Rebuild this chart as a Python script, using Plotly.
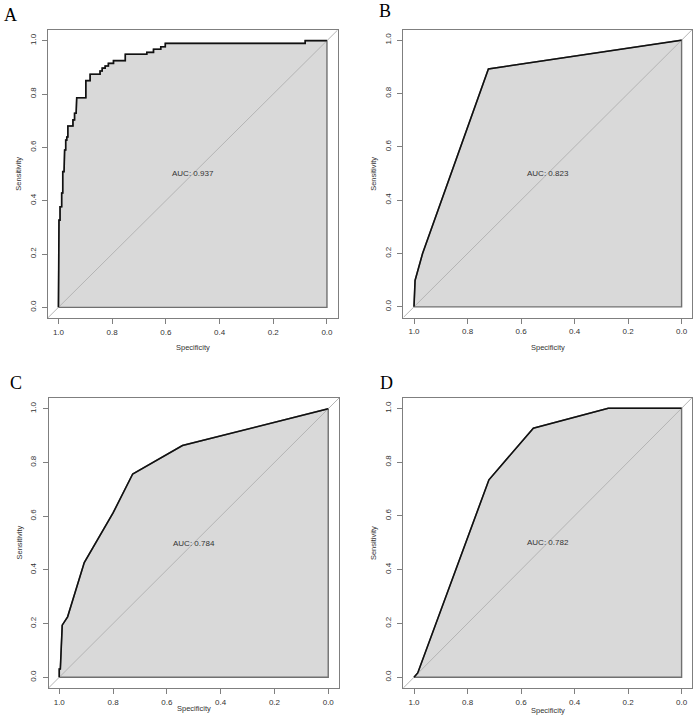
import plotly.graph_objects as go

# ---------------- data (specificity, sensitivity) ----------------
spec_A = [1.0, 1.0, 0.998, 0.998, 0.994, 0.994, 0.988, 0.988, 0.984, 0.984, 0.979, 0.979,
          0.977, 0.977, 0.973, 0.973, 0.969, 0.969, 0.965, 0.965, 0.946, 0.946, 0.940, 0.940,
          0.934, 0.934, 0.932, 0.932, 0.926, 0.926, 0.898, 0.898, 0.882, 0.882, 0.845, 0.845,
          0.837, 0.837, 0.826, 0.826, 0.814, 0.814, 0.795, 0.795, 0.751, 0.751, 0.671, 0.671,
          0.646, 0.646, 0.619, 0.619, 0.602, 0.602, 0.081, 0.081, 0.0]
sens_A = [0.0, 0.309, 0.309, 0.327, 0.327, 0.377, 0.377, 0.429, 0.429, 0.509, 0.509, 0.522,
          0.522, 0.590, 0.590, 0.627, 0.627, 0.639, 0.639, 0.680, 0.680, 0.703, 0.703, 0.728,
          0.728, 0.740, 0.740, 0.786, 0.786, 0.786, 0.786, 0.850, 0.850, 0.874, 0.874, 0.886,
          0.886, 0.897, 0.897, 0.905, 0.905, 0.915, 0.915, 0.925, 0.925, 0.949, 0.949, 0.956,
          0.956, 0.968, 0.968, 0.977, 0.977, 0.990, 0.990, 1.0, 1.0]

spec_B = [1.0, 0.996, 0.968, 0.722, 0.0]
sens_B = [0.0, 0.099, 0.200, 0.892, 1.0]

spec_C = [1.0, 1.0, 0.996, 0.989, 0.969, 0.907, 0.800, 0.727, 0.542, 0.0]
sens_C = [0.0, 0.031, 0.031, 0.194, 0.225, 0.427, 0.612, 0.757, 0.863, 1.0]

spec_D = [1.0, 0.986, 0.720, 0.554, 0.274, 0.0]
sens_D = [0.0, 0.016, 0.734, 0.926, 1.0, 1.0]

auc_labels = ["AUC: 0.937", "AUC: 0.823", "AUC: 0.784", "AUC: 0.782"]
panel_letters = ["A", "B", "C", "D"]
tick_vals = [0.0, 0.2, 0.4, 0.6, 0.8, 1.0]
tick_text = ["0.0", "0.2", "0.4", "0.6", "0.8", "1.0"]
x_title = "Specificity"
y_title = "Sensitivity"

# ---------------- layout helpers ----------------
W, H = 698, 728
X_RANGE = [1.04, -0.04]
Y_RANGE = [-0.04, 1.04]


def px(x):
    return x / W


def py(y):
    return 1 - y / H


# panel boxes in pixels: (left, right, top, bottom)
boxes = [(47.7, 337.7, 30.0, 318.0),
         (403.3, 692.3, 29.5, 317.5),
         (48.5, 339.0, 398.0, 688.0),
         (403.3, 692.3, 397.5, 688.0)]
letter_pos = [(10, 15), (385, 11), (16, 383), (386, 383)]
xtitle_y = [347, 347, 708, 710]
ytitle_dx = 30

FILL = "#d9d9d9"
BOX = "#7f7f7f"
TXT = "#333333"
FONT = "Liberation Sans, Arial, sans-serif"

fig = go.Figure()
layout = dict(width=W, height=H, margin=dict(l=0, r=0, t=0, b=0),
              paper_bgcolor="white", plot_bgcolor="white", showlegend=False,
              annotations=[])

series = [(spec_A, sens_A), (spec_B, sens_B), (spec_C, sens_C), (spec_D, sens_D)]

for i, ((sx, sy), box) in enumerate(zip(series, boxes)):
    n = "" if i == 0 else str(i + 1)
    xa, ya = "x" + n, "y" + n
    l, r, t, b = box
    # AUC polygon
    fig.add_trace(go.Scatter(x=list(sx) + [0.0, 1.0], y=list(sy) + [0.0, 0.0],
                             xaxis=xa, yaxis=ya, mode="lines", fill="toself",
                             fillcolor=FILL, line=dict(color="#707070", width=1.4),
                             hoverinfo="skip"))
    # identity line over whole box
    fig.add_trace(go.Scatter(x=X_RANGE, y=Y_RANGE, xaxis=xa, yaxis=ya, mode="lines",
                             line=dict(color="#b4b4b4", width=1), hoverinfo="skip"))
    # ROC curve
    fig.add_trace(go.Scatter(x=sx, y=sy, xaxis=xa, yaxis=ya, mode="lines",
                             line=dict(color="#111111", width=1.6)))
    axis_common = dict(showline=True, linecolor=BOX, linewidth=1, mirror=True,
                       showgrid=False, zeroline=False, ticks="outside", ticklen=5,
                       tickcolor=BOX, tickwidth=1, tickvals=tick_vals, ticktext=tick_text,
                       tickfont=dict(family=FONT, size=8, color=TXT))
    layout["xaxis" + n] = dict(axis_common, domain=[px(l), px(r)], range=X_RANGE,
                               anchor=ya, ticklabelstandoff=1)
    layout["yaxis" + n] = dict(axis_common, domain=[py(b), py(t)], range=Y_RANGE,
                               anchor=xa, tickangle=-90, ticklabelstandoff=3)
    # AUC text
    layout["annotations"].append(dict(x=0.5, y=0.5, xref=xa, yref=ya, text=auc_labels[i],
                                      showarrow=False, xanchor="center", yanchor="middle",
                                      font=dict(family=FONT, size=8, color=TXT)))
    # axis titles
    layout["annotations"].append(dict(x=px((l + r) / 2), y=py(xtitle_y[i]), xref="paper",
                                      yref="paper", text=x_title, showarrow=False,
                                      xanchor="center", yanchor="middle",
                                      font=dict(family=FONT, size=7.5, color=TXT)))
    layout["annotations"].append(dict(x=px(l - ytitle_dx), y=py((t + b) / 2), xref="paper",
                                      yref="paper", text=y_title, showarrow=False,
                                      textangle=-90, xanchor="center", yanchor="middle",
                                      font=dict(family=FONT, size=7.5, color=TXT)))
    # panel letters
    lx, ly = letter_pos[i]
    layout["annotations"].append(dict(x=px(lx), y=py(ly), xref="paper", yref="paper",
                                      text=panel_letters[i], showarrow=False,
                                      xanchor="center", yanchor="middle",
                                      font=dict(family="Liberation Serif, Times New Roman, serif",
                                                size=18, color="black")))

fig.update_layout(**layout)
fig.write_html("out.html")
